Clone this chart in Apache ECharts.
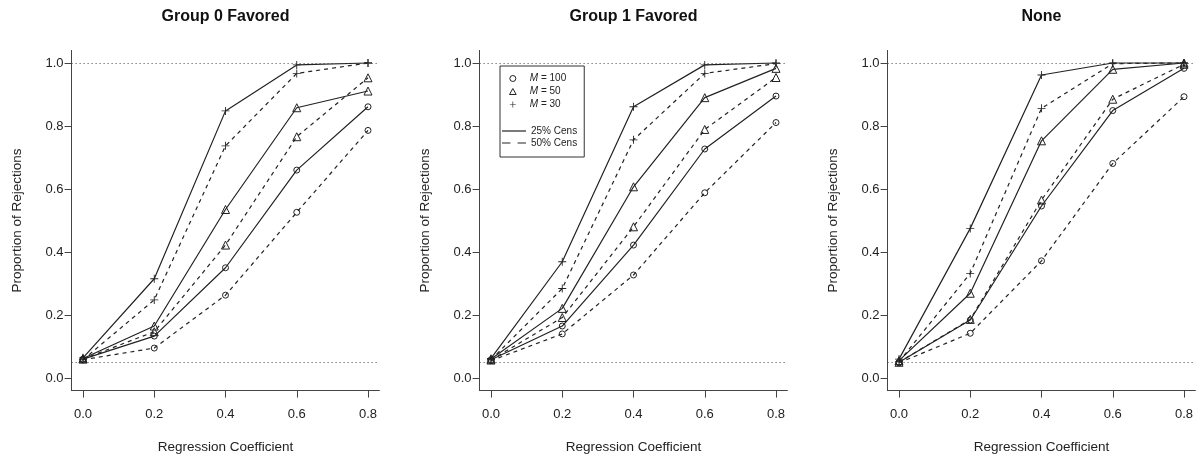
<!DOCTYPE html>
<html>
<head>
<meta charset="utf-8">
<style>
  html, body { margin: 0; padding: 0; background: #fff; }
  #chart { width: 1204px; height: 462px; }
</style>
<script src="https://cdn.jsdelivr.net/npm/echarts@6/dist/echarts.min.js"></script>
</head>
<body>
<div id="chart"></div>
<script>
// regression coefficient (x) and tick labels
const coef = [0, 0.2, 0.4, 0.6, 0.8];
const yTicks = [0, 0.2, 0.4, 0.6, 0.8, 1.0];
const refLines = [0.05, 1.0];
const panelTitles = ['Group 0 Favored', 'Group 1 Favored', 'None'];

// row order: M=100 25%, M=100 50%, M=50 25%, M=50 50%, M=30 25%, M=30 50%
const group0Favored = [
  [0.060, 0.133, 0.350, 0.660, 0.861],
  [0.058, 0.095, 0.263, 0.526, 0.786],
  [0.062, 0.165, 0.535, 0.858, 0.911],
  [0.060, 0.147, 0.422, 0.766, 0.953],
  [0.064, 0.315, 0.848, 0.994, 1.000],
  [0.058, 0.248, 0.737, 0.967, 1.000]
];
const group1Favored = [
  [0.058, 0.165, 0.422, 0.727, 0.895],
  [0.055, 0.140, 0.327, 0.588, 0.811],
  [0.060, 0.221, 0.607, 0.890, 0.983],
  [0.057, 0.192, 0.480, 0.789, 0.954],
  [0.062, 0.369, 0.861, 0.994, 1.000],
  [0.058, 0.284, 0.756, 0.967, 0.998]
];
const noneFavored = [
  [0.050, 0.184, 0.546, 0.849, 0.983],
  [0.048, 0.142, 0.372, 0.681, 0.893],
  [0.055, 0.269, 0.753, 0.980, 1.000],
  [0.050, 0.186, 0.565, 0.885, 0.996],
  [0.060, 0.475, 0.962, 1.000, 1.000],
  [0.052, 0.332, 0.856, 0.998, 1.000]
];
const panels = [group0Favored, group1Favored, noneFavored];

const mLabels = ['M = 100', 'M = 50', 'M = 30'];
const censLabels = ['25% Cens', '50% Cens'];

const FONT = '"Liberation Sans", Arial, Helvetica, sans-serif';
const INK = '#222';
const AXIS = '#444';
const PLUS = 'path://M4,0h1v4h4v1h-4v4h-1v-4h-4v-1h4z';
const TRI = 'path://M5,0L10,9L0,9Z';
const markers = [
  { symbol: 'circle', size: 6, style: { color: 'transparent', borderColor: INK, borderWidth: 1 } },
  { symbol: TRI, size: 8, style: { color: 'transparent', borderColor: INK, borderWidth: 1 } },
  { symbol: PLUS, size: 8, style: { color: INK, borderWidth: 0 } }
];
const dashes = ['solid', [4, 4]];
// legend line samples for the censoring entries
const censIcons = ['path://M0,0h20v1h-20z', 'path://M0,0h7v1h-7zM13,0h7v1h-7z'];

const grids = [], xAxes = [], yAxes = [], titles = [], series = [];

panels.forEach((rows, i) => {
  const left = 71.6 + 408 * i;
  grids.push({ left: left, top: 50.4, width: 307.8, height: 340.2 });
  titles.push({
    text: panelTitles[i], left: left + 153.9, top: 9, textAlign: 'center', padding: 0,
    textStyle: { fontFamily: FONT, fontSize: 16, fontWeight: 'bold', color: '#111' }
  });
  xAxes.push({
    type: 'value', gridIndex: i, min: -0.032, max: 0.832,
    name: 'Regression Coefficient', nameLocation: 'middle', nameGap: 50,
    nameTextStyle: { fontFamily: FONT, fontSize: 13.5, color: INK },
    axisLine: { show: true, onZero: false, lineStyle: { color: AXIS, width: 1 } },
    axisTick: { show: true, length: 7, customValues: coef, lineStyle: { color: AXIS } },
    axisLabel: { show: true, customValues: coef, formatter: v => v.toFixed(1), margin: 17,
      fontFamily: FONT, fontSize: 13, color: INK },
    splitLine: { show: false }
  });
  yAxes.push({
    type: 'value', gridIndex: i, min: -0.04, max: 1.04,
    name: 'Proportion of Rejections', nameLocation: 'middle', nameGap: 47,
    nameTextStyle: { fontFamily: FONT, fontSize: 13.5, color: INK },
    axisLine: { show: true, onZero: false, lineStyle: { color: AXIS, width: 1 } },
    axisTick: { show: true, length: 7, customValues: yTicks, lineStyle: { color: AXIS } },
    axisLabel: { show: true, customValues: yTicks, formatter: v => v.toFixed(1), margin: 8,
      fontFamily: FONT, fontSize: 13, color: INK },
    splitLine: { show: false }
  });
  rows.forEach((vals, k) => {
    const mk = markers[Math.floor(k / 2)];
    const s = {
      type: 'line', name: mLabels[Math.floor(k / 2)] + ' ' + censLabels[k % 2] + ' ' + i,
      xAxisIndex: i, yAxisIndex: i,
      data: vals.map((v, j) => [coef[j], v]),
      symbol: mk.symbol, symbolSize: mk.size, itemStyle: mk.style,
      lineStyle: { color: INK, width: 1.2, type: dashes[k % 2] },
      emphasis: { disabled: true }, silent: true
    };
    if (k === 0) {
      s.markLine = {
        silent: true, symbol: ['none', 'none'], label: { show: false },
        lineStyle: { color: AXIS, width: 1, type: [1, 3] },
        data: refLines.map(v => ({ yAxis: v }))
      };
    }
    series.push(s);
  });
});

// legend-only series (drawn in the middle panel)
mLabels.forEach((n, k) => {
  series.push({ type: 'line', name: n, xAxisIndex: 1, yAxisIndex: 1, data: [],
    symbol: markers[k].symbol, itemStyle: markers[k].style, lineStyle: { color: INK, width: 1 } });
});
censLabels.forEach((n, k) => {
  series.push({ type: 'line', name: n, xAxisIndex: 1, yAxisIndex: 1, data: [],
    symbol: 'none', itemStyle: { color: INK, borderWidth: 0 },
    lineStyle: { color: INK, width: 1, type: dashes[k] } });
});

const legendText = {
  fontFamily: FONT, fontSize: 10, color: INK,
  rich: { i: { fontStyle: 'italic', fontFamily: FONT, fontSize: 10, color: INK } }
};

const chart = echarts.init(document.getElementById('chart'), null, { renderer: 'canvas' });
chart.setOption({
  animation: false,
  backgroundColor: '#fff',
  title: titles,
  grid: grids,
  xAxis: xAxes,
  yAxis: yAxes,
  legend: [
    {
      orient: 'vertical', left: 500, top: 66, padding: [6, 18, 46, 9],
      borderColor: '#333', borderWidth: 1, borderRadius: 0,
      itemWidth: 24, itemHeight: 6, itemGap: 0, symbolKeepAspect: true,
      itemStyle: { borderWidth: 1 },
      textStyle: Object.assign({ lineHeight: 13 }, legendText),
      formatter: n => n.replace('M', '{i|M}'),
      data: mLabels.map((n, k) => ({ name: n, icon: markers[k].symbol,
        itemStyle: k === 2 ? { borderWidth: 0 } : { borderWidth: 1 } }))
    },
    {
      orient: 'vertical', left: 502, top: 125, padding: 0,
      itemWidth: 24, itemHeight: 8, itemGap: 0, symbolKeepAspect: true,
      itemStyle: { borderWidth: 0 },
      textStyle: Object.assign({ lineHeight: 12 }, legendText),
      data: censLabels.map((n, k) => ({ name: n, icon: censIcons[k] }))
    }
  ],
  series: series
});
window.addEventListener('resize', function () { chart.resize(); });
</script>
</body>
</html>
